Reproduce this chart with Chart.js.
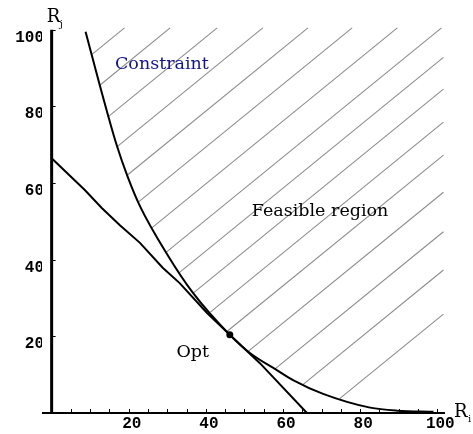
<!DOCTYPE html>
<html>
<head>
<meta charset="utf-8">
<script src="https://cdn.jsdelivr.net/npm/chart.js@4.4.0/dist/chart.umd.min.js"></script>
<style>
  html, body { margin: 0; padding: 0; background: #fff; }
</style>
</head>
<body>
<canvas id="grafic" width="473" height="434"></canvas>
<script>
// constraint curve (upper boundary of the feasible region)
const constraintX = [8.8, 12.5, 16.9, 19.7, 22.9, 29.9, 36.6, 46.2, 51.5, 58.4, 62.6, 70.4, 82.6, 89.6, 99];
const constraintY = [99.5, 85.5, 69.8, 61.7, 54, 41.5, 31.4, 20.4, 15.6, 11.2, 8.6, 5, 1.4, 0.6, 0.3];

// lower curve, touching the constraint at Opt
const lowerX = [0, 8.6, 13, 17.7, 22.9, 28.8, 33.2, 40.3, 46.2, 54, 66.2];
const lowerY = [66.5, 58.2, 53.5, 49, 44.4, 37.9, 33.9, 26.1, 20.4, 13, 0];

const optX = 46.2;
const optY = 20.4;

// hatching of the feasible region: y = hatchSlope * x + offset
const hatchSlope = 0.82;
const hatchOffsets = [85, 75.3, 65.3, 55.6, 46, 36.6, 27, 17.6, 9.5, 1.2, -7.4, -16, -25.7, -36, -46, -57.5];
const hatchTop = 100.5;
const hatchRight = 101.6;

const xTicks = [20, 40, 60, 80, 100];
const yTicks = [20, 40, 60, 80, 100];

const tickFont = { family: "'Liberation Mono', monospace", size: 16, weight: 'bold' };
const serif = "'DejaVu Serif', serif";

function constraintAt(x) {
  for (let i = 0; i < constraintX.length - 1; i++) {
    if (x <= constraintX[i + 1]) {
      let t = (x - constraintX[i]) / (constraintX[i + 1] - constraintX[i]);
      return constraintY[i] + t * (constraintY[i + 1] - constraintY[i]);
    }
  }
  return constraintY[constraintY.length - 1];
}

function hatchLine(b) {
  let lo = constraintX[0], hi = constraintX[constraintX.length - 1];
  for (let k = 0; k < 60; k++) {
    let mid = (lo + hi) / 2;
    if (hatchSlope * mid + b < constraintAt(mid)) lo = mid; else hi = mid;
  }
  let xs = lo, ys = hatchSlope * lo + b;
  let xe = Math.min((hatchTop - b) / hatchSlope, hatchRight);
  let ye = hatchSlope * xe + b;
  return [{ x: xs, y: ys }, { x: xe, y: ye }];
}

let datasets = [];
datasets.push({
  data: [{ x: optX, y: optY }],
  showLine: false,
  pointRadius: 3.5,
  pointBackgroundColor: '#000',
  pointBorderWidth: 0,
  order: 0
});
datasets.push({
  data: constraintX.map((v, i) => ({ x: v, y: constraintY[i] })),
  borderColor: '#000',
  borderWidth: 2,
  pointRadius: 0,
  cubicInterpolationMode: 'monotone',
  order: 1
});
datasets.push({
  data: lowerX.map((v, i) => ({ x: v, y: lowerY[i] })),
  borderColor: '#000',
  borderWidth: 2,
  pointRadius: 0,
  tension: 0,
  order: 1
});
hatchOffsets.forEach(b => {
  datasets.push({
    data: hatchLine(b),
    borderColor: '#8c8c8c',
    borderWidth: 1.1,
    pointRadius: 0,
    order: 5
  });
});

const labels = [
  { text: 'Constraint', x: 28.6, y: 91, color: '#14148c' },
  { text: 'Feasible region', x: 69.6, y: 52.5, color: '#000' },
  { text: 'Opt', x: 36.6, y: 15.9, color: '#000' }
];

const decorations = {
  id: 'decorations',
  afterDatasetsDraw(chart) {
    const ctx = chart.ctx, xs = chart.scales.x, ys = chart.scales.y;
    const x0 = xs.getPixelForValue(0), y0 = ys.getPixelForValue(0);
    ctx.save();
    ctx.strokeStyle = '#000';
    ctx.lineWidth = 1;
    ctx.beginPath();
    for (let v = 5; v <= 100; v += 5) {
      let px = Math.round(xs.getPixelForValue(v)) + 0.5;
      ctx.moveTo(px, y0);
      ctx.lineTo(px, y0 - 4);
    }
    yTicks.forEach(v => {
      let py = Math.round(ys.getPixelForValue(v)) + 0.5;
      ctx.moveTo(x0, py);
      ctx.lineTo(x0 + 4, py);
    });
    ctx.stroke();

    ctx.lineWidth = 2;
    ctx.beginPath();
    ctx.moveTo(xs.left, y0);
    ctx.lineTo(xs.right, y0);
    ctx.stroke();
    ctx.lineWidth = 3;
    ctx.beginPath();
    ctx.moveTo(x0, y0);
    ctx.lineTo(x0, ys.getPixelForValue(100));
    ctx.stroke();

    ctx.textAlign = 'center';
    ctx.textBaseline = 'middle';
    ctx.font = '17.5px ' + serif;
    labels.forEach(l => {
      ctx.fillStyle = l.color;
      ctx.fillText(l.text, xs.getPixelForValue(l.x), ys.getPixelForValue(l.y));
    });

    // axis names
    ctx.fillStyle = '#000';
    ctx.textAlign = 'left';
    ctx.textBaseline = 'alphabetic';
    ctx.font = '18px ' + serif;
    ctx.fillText('R', x0 - 5, 22);
    ctx.fillText('R', xs.right + 9, y0 + 4);
    ctx.font = '10px ' + serif;
    ctx.fillText('j', x0 + 8, 27);
    ctx.fillText('i', xs.right + 23, y0 + 9);
    ctx.restore();
  }
};

new Chart(document.getElementById('grafic'), {
  type: 'line',
  data: { datasets: datasets },
  options: {
    responsive: false,
    animation: false,
    layout: { padding: { top: 26, right: 28, left: 0, bottom: 0 } },
    plugins: { legend: { display: false }, tooltip: { enabled: false } },
    scales: {
      x: {
        type: 'linear',
        min: -2.5,
        max: 102,
        grid: { display: false, drawTicks: false },
        border: { display: false },
        afterBuildTicks: s => { s.ticks = xTicks.map(v => ({ value: v })); },
        afterFit: s => { s.height = 21; },
        ticks: { font: tickFont, color: '#000', padding: 1, labelOffset: 3, maxRotation: 0, autoSkip: false }
      },
      y: {
        type: 'linear',
        min: 0,
        max: 101,
        grid: { display: false, drawTicks: false },
        border: { display: false },
        afterBuildTicks: s => { s.ticks = yTicks.map(v => ({ value: v })); },
        afterFit: s => { s.width = 42; },
        ticks: { font: tickFont, color: '#000', padding: -2, labelOffset: 8, autoSkip: false }
      }
    }
  },
  plugins: [decorations]
});
</script>
</body>
</html>
